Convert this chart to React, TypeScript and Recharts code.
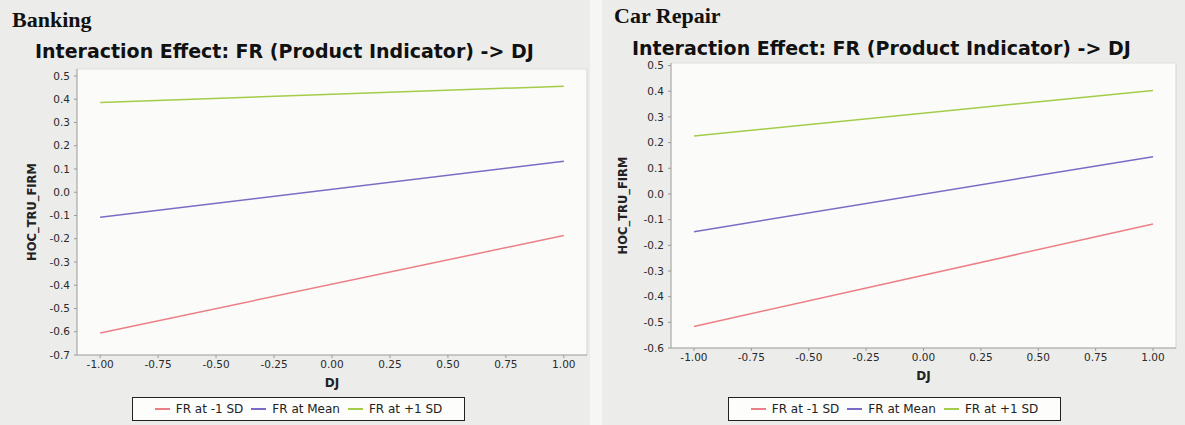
import {
  CartesianGrid,
  Line,
  LineChart,
  ReferenceLine,
  XAxis,
  YAxis,
} from "recharts";

// ---------------------------------------------------------------------------
// Data (values at DJ = -1 and DJ = +1)
// ---------------------------------------------------------------------------

const djValues = [-1, 1];
const xTicks = [-1, -0.75, -0.5, -0.25, 0, 0.25, 0.5, 0.75, 1];

const bankingLow = [-0.605, -0.186];
const bankingMean = [-0.108, 0.133];
const bankingHigh = [0.386, 0.456];
const bankingTicks = [0.5, 0.4, 0.3, 0.2, 0.1, 0, -0.1, -0.2, -0.3, -0.4, -0.5, -0.6, -0.7];

const carLow = [-0.516, -0.117];
const carMean = [-0.147, 0.145];
const carHigh = [0.226, 0.403];
const carTicks = [0.5, 0.4, 0.3, 0.2, 0.1, 0, -0.1, -0.2, -0.3, -0.4, -0.5, -0.6];

const seriesNames = ["FR at -1 SD", "FR at Mean", "FR at +1 SD"];
const seriesKeys = ["low", "mean", "high"];
const seriesColors = ["#ec7f86", "#7a6cc6", "#a4cc4a"];

const TITLE = "Interaction Effect: FR (Product Indicator) -> DJ";
const SANS = "'DejaVu Sans', Verdana, sans-serif";

function buildRows(low: number[], mean: number[], high: number[]) {
  return djValues.map((dj, i) => ({ dj, low: low[i], mean: mean[i], high: high[i] }));
}

interface PanelProps {
  left: number;
  heading: string;
  headingTop: number;
  headingLeft: number;
  titleLeft: number;
  titleTop: number;
  rows: { dj: number; low: number; mean: number; high: number }[];
  yTicks: number[];
  yTop: number;
  marginTop: number;
  marginLeft: number;
  marginRight: number;
  plotBottom: number;
  yLabelX: number;
  legendLeft: number;
  legendTop: number;
}

function Panel(p: PanelProps) {
  const chartH = 425;
  const xAxisH = 32;
  const yAxisW = 46;
  const tickStyle = { fontSize: 10.5, fill: "#2a2a2a", fontFamily: SANS };
  return (
    <div style={{ position: "absolute", left: p.left, top: 0, width: 590, height: 425 }}>
      <div
        style={{
          position: "absolute",
          left: p.headingLeft,
          top: p.headingTop,
          fontFamily: "'Liberation Serif', 'Times New Roman', serif",
          fontWeight: "bold",
          fontSize: 22,
          color: "#111",
          lineHeight: 1,
        }}
      >
        {p.heading}
      </div>
      <div
        style={{
          position: "absolute",
          left: p.titleLeft,
          top: p.titleTop,
          fontFamily: SANS,
          fontWeight: "bold",
          fontSize: 19,
          color: "#111",
          lineHeight: 1,
          whiteSpace: "nowrap",
        }}
      >
        {TITLE}
      </div>
      <div style={{ position: "absolute", left: 0, top: 0 }}>
        <LineChart
          width={590}
          height={chartH}
          data={p.rows}
          margin={{
            top: p.marginTop,
            right: p.marginRight,
            left: p.marginLeft - yAxisW,
            bottom: chartH - p.plotBottom - xAxisH,
          }}
        >
          <CartesianGrid horizontal={false} vertical={false} fill="#fbfbf9" stroke="none" />
          <XAxis
            dataKey="dj"
            type="number"
            domain={[-1.1, 1.1]}
            ticks={xTicks}
            tickFormatter={(v) => Number(v).toFixed(2)}
            height={xAxisH}
            stroke="#9a9a9a"
            tickSize={3}
            tickMargin={3}
            tick={tickStyle}
            label={{
              value: "DJ",
              position: "insideBottom",
              offset: 0,
              style: { fontSize: 12, fill: "#222", fontFamily: SANS, fontWeight: "bold" },
            }}
          />
          <YAxis
            type="number"
            domain={[p.yTicks[p.yTicks.length - 1], p.yTop]}
            ticks={p.yTicks}
            tickFormatter={(v) => Number(v).toFixed(1)}
            width={yAxisW}
            stroke="#9a9a9a"
            tickSize={3}
            tickMargin={4}
            tick={tickStyle}
            allowDataOverflow
            label={{
              value: "HOC_TRU_FIRM",
              angle: -90,
              position: "insideLeft",
              offset: p.yLabelX - (p.marginLeft - yAxisW),
              style: { textAnchor: "middle", fontSize: 11.5, fill: "#222", fontFamily: SANS, fontWeight: "bold" },
            }}
          />
          <ReferenceLine x={1.1} stroke="#d4d4d4" />
          <ReferenceLine y={p.yTop} stroke="#e0e0e0" />
          {seriesKeys.map((k, i) => (
            <Line
              key={k}
              type="linear"
              dataKey={k}
              name={seriesNames[i]}
              stroke={seriesColors[i]}
              strokeWidth={1.5}
              dot={false}
              isAnimationActive={false}
            />
          ))}
        </LineChart>
      </div>
      {/* legend box */}
      <div
        style={{
          position: "absolute",
          left: p.legendLeft,
          top: p.legendTop,
          width: 331,
          height: 22,
          border: "1.5px solid #222",
          background: "#fdfdfb",
          display: "flex",
          alignItems: "center",
          justifyContent: "center",
          gap: 8,
          fontFamily: SANS,
          fontSize: 12,
          color: "#222",
          whiteSpace: "nowrap",
        }}
      >
        {seriesNames.map((n, i) => (
          <span key={n} style={{ display: "flex", alignItems: "center", gap: 6 }}>
            <span style={{ display: "inline-block", width: 15, height: 2, background: seriesColors[i] }} />
            {n}
          </span>
        ))}
      </div>
    </div>
  );
}

export default function App() {
  return (
    <div
      style={{
        position: "fixed",
        left: 0,
        top: 0,
        width: 1185,
        height: 425,
        background: "#ececea",
        overflow: "hidden",
      }}
    >
      <div style={{ position: "absolute", left: 590, top: 0, width: 12, height: 425, background: "#f6f6f4" }} />
      <Panel
        left={0}
        heading="Banking"
        headingTop={9}
        headingLeft={12}
        titleLeft={35}
        titleTop={42}
        rows={buildRows(bankingLow, bankingMean, bankingHigh)}
        yTicks={bankingTicks}
        yTop={0.53}
        marginTop={69}
        marginLeft={77}
        marginRight={3}
        plotBottom={355}
        yLabelX={32}
        legendLeft={132}
        legendTop={397}
      />
      <Panel
        left={590}
        heading="Car Repair"
        headingTop={5}
        headingLeft={24}
        titleLeft={42}
        titleTop={39}
        rows={buildRows(carLow, carMean, carHigh)}
        yTicks={carTicks}
        yTop={0.51}
        marginTop={63}
        marginLeft={81}
        marginRight={4}
        plotBottom={348}
        yLabelX={33}
        legendLeft={138}
        legendTop={397}
      />
    </div>
  );
}
